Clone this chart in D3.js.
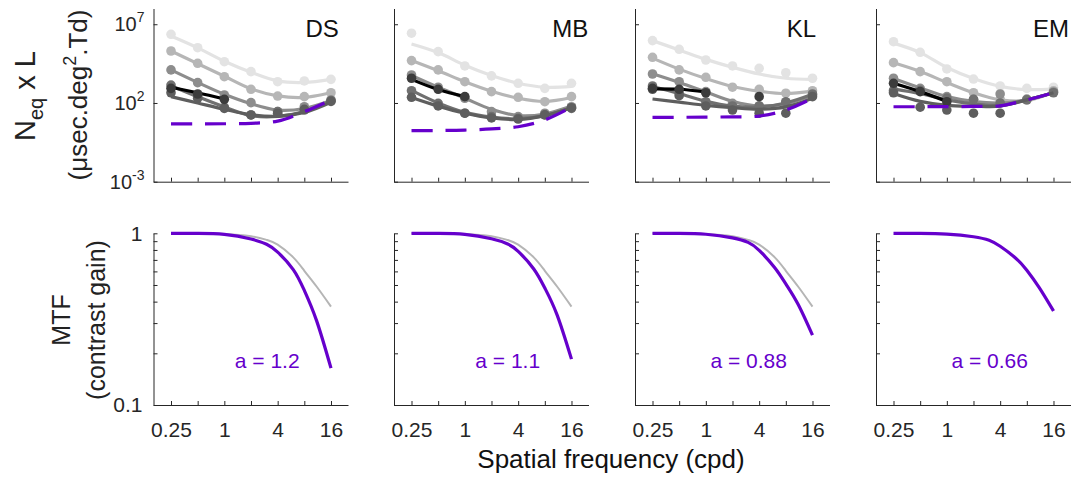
<!DOCTYPE html>
<html>
<head>
<meta charset="utf-8">
<script src="https://cdn.jsdelivr.net/npm/d3@7/dist/d3.min.js"></script>
<style>
  html, body { margin: 0; padding: 0; background: #fff; }
  svg { display: block; font-family: "Liberation Sans", Arial, Helvetica, sans-serif; }
</style>
</head>
<body>
<script>
// Spatial frequencies (cpd) at which the noise data were measured
const freqs = [0.25, 0.5, 1, 2, 4, 8, 16];
const xTickLabels = [0.25, 1, 4, 16];
const subjects = ["DS", "MB", "KL", "EM"];

// Grey levels of the six luminance conditions (brightest to darkest)
const shades = ["#e3e3e3", "#b6b6b6", "#8d8d8d", "#707070", "#5e5e5e", "#000000"];

// log10(Neq x L) measured points, one row per luminance condition
const dsPoints = [
  [6.36, 5.51, 4.62, 3.99, 3.35, 3.40, 3.50],
  [5.30, 4.52, 3.67, 2.87, 2.44, 2.40, 2.65],
  [4.10, 3.29, 2.51, 2.02, 1.45, 1.76, 2.19],
  [3.14, 2.40, 1.73, 1.24, 1.45, 1.55, 2.15],
  [2.65, 2.30, 1.66, 1.24, 1.35, 1.60, 2.10],
  [2.93, 2.57, 2.23, null, null, null, null]
];
const mbPoints = [
  [6.43, 5.26, 4.35, 3.72, 3.25, 2.93, 3.25],
  [4.69, 4.10, 3.35, 2.72, 2.36, 2.08, 2.40],
  [3.78, 3.00, 2.30, 1.45, 1.13, 1.35, 1.76],
  [2.78, 1.98, 1.35, 1.13, 1.03, 1.24, 1.66],
  [2.36, 1.81, 1.35, 1.05, 0.98, 1.25, 1.70],
  [3.57, 2.87, 2.40, null, null, null, null]
];
const klPoints = [
  [5.96, 5.41, 4.73, 4.35, 4.20, 3.92, 3.57],
  [4.90, 4.10, 3.63, 3.00, 2.87, 2.62, 2.78],
  [3.84, 3.35, 2.72, 1.98, 1.81, 2.02, 2.51],
  [3.08, 2.62, 2.08, 1.81, 1.81, 2.08, 2.57],
  [2.87, 2.46, 1.81, 1.55, 1.35, 1.35, 2.40],
  [2.93, 2.87, 2.65, null, 2.40, null, null]
];
const emPoints = [
  [5.89, 5.22, 4.16, 3.52, 3.08, 2.93, 3.00],
  [4.56, 3.99, 3.35, 2.65, 2.23, 2.19, 2.78],
  [3.57, 2.93, 2.40, 2.23, 2.57, 2.25, 2.70],
  [2.80, 2.80, 2.31, 2.23, 2.00, 2.20, 2.65],
  [2.65, 1.73, 1.55, 1.35, 1.35, null, null],
  [3.25, 2.72, 2.08, null, null, null, null]
];

// log10(Neq x L) model fits, same layout as the points
const dsFits = [
  [6.25, 5.50, 4.65, 3.95, 3.40, 3.30, 3.50],
  [5.30, 4.50, 3.70, 2.90, 2.45, 2.35, 2.65],
  [4.10, 3.30, 2.55, 1.95, 1.55, 1.65, 2.15],
  [3.10, 2.40, 1.75, 1.20, 1.15, 1.45, 2.15],
  [2.40, 2.00, 1.60, 1.25, 1.15, 1.40, 2.05],
  [3.00, 2.65, 2.25, null, null, null, null]
];
const mbFits = [
  [5.75, 5.20, 4.40, 3.75, 3.25, 3.00, 3.05],
  [4.70, 4.05, 3.35, 2.75, 2.30, 2.10, 2.35],
  [3.75, 3.00, 2.30, 1.60, 1.20, 1.30, 1.80],
  [2.80, 2.00, 1.40, 1.10, 1.00, 1.20, 1.70],
  [2.35, 1.80, 1.35, 1.05, 0.95, 1.20, 1.70],
  [3.50, 2.85, 2.40, null, null, null, null]
];
const klFits = [
  [5.96, 5.37, 4.77, 4.27, 3.84, 3.57, 3.50],
  [4.85, 4.15, 3.55, 3.05, 2.75, 2.60, 2.75],
  [3.85, 3.30, 2.70, 2.10, 1.80, 1.95, 2.50],
  [3.05, 2.60, 2.10, 1.80, 1.75, 2.00, 2.55],
  [2.25, 2.05, 1.85, 1.70, 1.60, 1.75, 2.30],
  [2.90, 2.87, 2.70, null, null, null, null]
];
const emFits = [
  [5.80, 5.20, 4.25, 3.55, 3.05, 2.85, 2.90],
  [4.55, 4.00, 3.30, 2.65, 2.20, 2.15, 2.70],
  [3.55, 2.95, 2.40, 2.10, 2.00, 2.20, 2.65],
  [2.90, 2.60, 2.20, 1.95, 1.85, 2.20, 2.65],
  [2.60, 2.10, 1.85, 1.80, 1.80, 2.20, 2.65],
  [3.25, 2.72, 2.10, null, null, null, null]
];

// log10 of the optics-limited equivalent noise (dashed purple)
const dsOptical = [0.67, 0.67, 0.68, 0.71, 0.85, 1.45, 2.19];
const mbOptical = [0.24, 0.25, 0.28, 0.35, 0.49, 0.92, 1.73];
const klOptical = [1.09, 1.09, 1.10, 1.12, 1.17, 1.55, 2.30];
const emOptical = [1.76, 1.76, 1.77, 1.78, 1.82, 2.19, 2.65];

// Modulation transfer functions, sampled along frequency
const mtfFreqs = [0.25, 0.5, 1, 2, 3, 4, 6, 8, 11, 16];
const dsMtf = [1.0, 0.998, 0.985, 0.926, 0.863, 0.777, 0.615, 0.465, 0.31, 0.164];
const mbMtf = [1.0, 0.998, 0.986, 0.93, 0.87, 0.785, 0.62, 0.48, 0.335, 0.185];
const klMtf = [1.0, 0.998, 0.987, 0.94, 0.885, 0.796, 0.63, 0.507, 0.386, 0.255];
const emMtf = [1.0, 0.999, 0.99, 0.955, 0.911, 0.84, 0.716, 0.61, 0.484, 0.353];
const refMtf = [1.0, 0.999, 0.992, 0.962, 0.916, 0.859, 0.724, 0.605, 0.49, 0.374];
const exponents = ["1.2", "1.1", "0.88", "0.66"];

const pointSets = [dsPoints, mbPoints, klPoints, emPoints];
const fitSets = [dsFits, mbFits, klFits, emFits];
const opticalSets = [dsOptical, mbOptical, klOptical, emOptical];
const mtfSets = [dsMtf, mbMtf, klMtf, emMtf];
const showRef = [true, true, true, false];

// ---- layout ----
const W = 1086, H = 479;
const panelLeft = [153.5, 394, 635, 876];
const panelW = 194.5;
const topBox = { top: 8.5, bottom: 181.7 };
const botBox = { top: 233.3, bottom: 405 };
const titleFreq = [12.7, 15.5, 12.0, 15.0];
const purple = "#6600cc";
const axisColor = "#262626";
const FONT = '"Liberation Sans", Arial, Helvetica, sans-serif';

const svg = d3.select("body").append("svg")
  .attr("width", W).attr("height", H)
  .attr("viewBox", `0 0 ${W} ${H}`);

function styleAxis(g) {
  g.selectAll("path.domain").attr("stroke", axisColor).attr("stroke-width", 1);
  g.selectAll(".tick line").attr("stroke", axisColor).attr("stroke-width", 1);
  g.selectAll(".tick text").attr("fill", axisColor)
    .attr("font-size", 21).attr("font-family", FONT);
  g.attr("font-family", null).attr("font-size", null);
}

subjects.forEach((name, i) => {
  const L = panelLeft[i];
  const x = d3.scaleLog().domain([0.1586, 24.9]).range([L, L + panelW]);

  // ===== Top row: equivalent noise =====
  const yT = d3.scaleLog().domain([1e-3, 1e8]).range([topBox.bottom, topBox.top]);
  const gT = svg.append("g");

  gT.append("g")
    .attr("transform", `translate(0,${topBox.bottom})`)
    .call(d3.axisBottom(x).tickValues(freqs).tickSizeInner(-4).tickSizeOuter(0).tickFormat(""))
    .call(styleAxis);
  gT.append("g")
    .attr("transform", `translate(${L},0)`)
    .call(d3.axisLeft(yT).tickValues([1e-3, 1e2, 1e7]).tickSizeInner(-4).tickSizeOuter(0).tickFormat(""))
    .call(styleAxis);

  if (i === 0) {
    [1e-3, 1e2, 1e7].forEach(v => {
      const t = gT.append("text")
        .attr("x", L - 9).attr("y", yT(v) + 7)
        .attr("text-anchor", "end")
        .attr("fill", axisColor).attr("font-size", 20);
      t.append("tspan").text("10");
      t.append("tspan").attr("dy", -9).attr("font-size", 14).text(Math.round(Math.log10(v)));
    });
  }

  const lineGen = d3.line()
    .defined(d => d[1] != null)
    .x(d => x(d[0]))
    .y(d => yT(Math.pow(10, d[1])))
    .curve(d3.curveCatmullRom.alpha(0.5));

  const pts = pointSets[i], fits = fitSets[i];
  shades.forEach((c, k) => {
    const fitData = freqs.map((f, j) => [f, fits[k][j]]);
    gT.append("path")
      .datum(fitData)
      .attr("d", lineGen)
      .attr("fill", "none")
      .attr("stroke", c)
      .attr("stroke-width", 3.2)
      .attr("stroke-linejoin", "round");
    const ptData = freqs.map((f, j) => [f, pts[k][j]]).filter(d => d[1] != null);
    gT.selectAll(null)
      .data(ptData)
      .enter().append("circle")
      .attr("cx", d => x(d[0]))
      .attr("cy", d => yT(Math.pow(10, d[1])))
      .attr("r", 4.8)
      .attr("fill", k === 5 ? "#3c3c3c" : c);
  });

  gT.append("path")
    .datum(freqs.map((f, j) => [f, opticalSets[i][j]]))
    .attr("d", lineGen)
    .attr("fill", "none")
    .attr("stroke", purple)
    .attr("stroke-width", 3.2)
    .attr("stroke-dasharray", "21,13");

  gT.append("text")
    .attr("x", x(titleFreq[i])).attr("y", 37)
    .attr("text-anchor", "middle")
    .attr("font-size", 24)
    .attr("fill", "#111")
    .text(name);

  // ===== Bottom row: MTF =====
  const yB = d3.scaleLog().domain([0.1, 1]).range([botBox.bottom, botBox.top]);
  const gB = svg.append("g");

  gB.append("g")
    .attr("transform", `translate(0,${botBox.bottom})`)
    .call(d3.axisBottom(x).tickValues(freqs).tickSizeInner(-4).tickSizeOuter(0)
      .tickPadding(17).tickFormat(d => xTickLabels.includes(d) ? String(d) : ""))
    .call(styleAxis);
  gB.append("g")
    .attr("transform", `translate(${L},0)`)
    .call(d3.axisLeft(yB).tickValues(d3.range(1, 11).map(k => k / 10))
      .tickSizeInner(-4).tickSizeOuter(0).tickPadding(11)
      .tickFormat(d => (i === 0 && (Math.abs(d - 0.1) < 1e-9 || Math.abs(d - 1) < 1e-9)) ? (d === 1 ? "1" : "0.1") : ""))
    .call(styleAxis);

  const mtfLine = d3.line()
    .x(d => x(d[0]))
    .y(d => yB(d[1]))
    .curve(d3.curveNatural);

  if (showRef[i]) {
    gB.append("path")
      .datum(mtfFreqs.map((f, j) => [f, refMtf[j]]))
      .attr("d", mtfLine)
      .attr("fill", "none")
      .attr("stroke", "#b5b5b5")
      .attr("stroke-width", 2);
  }
  gB.append("path")
    .datum(mtfFreqs.map((f, j) => [f, mtfSets[i][j]]))
    .attr("d", mtfLine)
    .attr("fill", "none")
    .attr("stroke", purple)
    .attr("stroke-width", 3.2);

  gB.append("text")
    .attr("x", x(3.05)).attr("y", yB(0.165))
    .attr("text-anchor", "middle")
    .attr("font-size", 21)
    .attr("fill", purple)
    .text("a = " + exponents[i]);
});

// ===== Axis titles =====
const yl1 = svg.append("text")
  .attr("transform", "translate(35,96) rotate(-90)")
  .attr("text-anchor", "middle")
  .attr("font-size", 29)
  .attr("fill", "#222");
yl1.append("tspan").text("N");
yl1.append("tspan").attr("font-size", 20).attr("dy", 8).text("eq");
yl1.append("tspan").attr("dy", -8).text(" x L");

const yl2 = svg.append("text")
  .attr("transform", "translate(87,95) rotate(-90)")
  .attr("text-anchor", "middle")
  .attr("font-size", 26)
  .attr("fill", "#222");
yl2.append("tspan").text("(\u03bcsec.deg");
yl2.append("tspan").attr("font-size", 18).attr("dy", -11).text("2");
yl2.append("tspan").attr("dy", 11).text(".Td)");

svg.append("text")
  .attr("transform", "translate(70,320) rotate(-90)")
  .attr("text-anchor", "middle")
  .attr("font-size", 25)
  .attr("fill", "#222")
  .text("MTF");
svg.append("text")
  .attr("transform", "translate(105,320) rotate(-90)")
  .attr("text-anchor", "middle")
  .attr("font-size", 25)
  .attr("fill", "#222")
  .text("(contrast gain)");

svg.append("text")
  .attr("x", 611).attr("y", 468)
  .attr("text-anchor", "middle")
  .attr("font-size", 26)
  .attr("fill", "#111")
  .text("Spatial frequency (cpd)");
</script>
</body>
</html>
